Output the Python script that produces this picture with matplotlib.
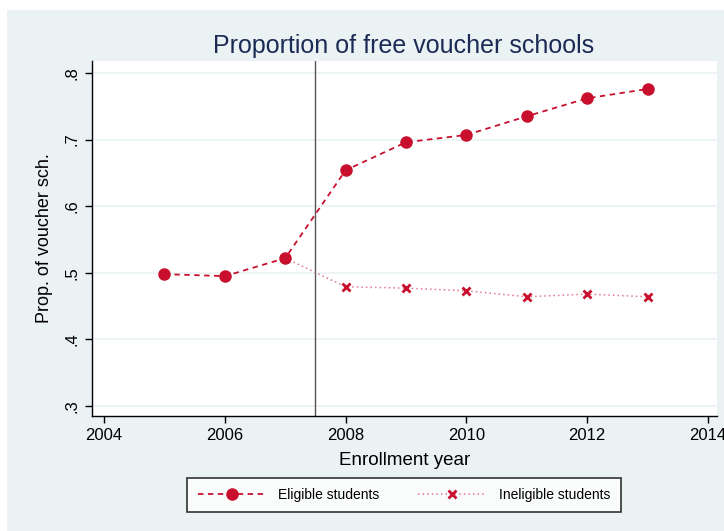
import matplotlib.pyplot as plt
from matplotlib.lines import Line2D
from matplotlib.patches import Rectangle

plt.rcParams["font.family"] = ["Liberation Sans", "DejaVu Sans"]

years = [2005, 2006, 2007, 2008, 2009, 2010, 2011, 2012, 2013]
eligible = [0.498, 0.495, 0.522, 0.654, 0.696, 0.707, 0.735, 0.762, 0.776]
ineligible_years = [2007, 2008, 2009, 2010, 2011, 2012, 2013]
ineligible = [0.522, 0.479, 0.477, 0.473, 0.464, 0.468, 0.464]
x_ticks = [2004, 2006, 2008, 2010, 2012, 2014]
y_ticks = [0.3, 0.4, 0.5, 0.6, 0.7, 0.8]
y_ticklabels = [".3", ".4", ".5", ".6", ".7", ".8"]
cutoff = 2007.5

BG = "#EAF2F3"
RED = "#C8102E"
PINK = "#E3788E"
NAVY = "#1C2B55"

W, H = 724, 531
fig = plt.figure(figsize=(W / 100, H / 100), dpi=100)
fig.patch.set_facecolor("white")
fig.add_artist(Rectangle((7 / W, 0), 1, 1 - 10 / H, transform=fig.transFigure,
                         facecolor=BG, edgecolor="none", zorder=0))

left, right, top, bottom = 92, 717, 61, 416
ax = fig.add_axes([left / W, 1 - bottom / H, (right - left) / W, (bottom - top) / H])
ax.set_facecolor("white")

ax.set_xlim(2003.8, 2014.15)
ax.set_ylim(0.285, 0.818)
for y in y_ticks:
    ax.axhline(y, color=BG, lw=1.2, zorder=0)

ax.axvline(cutoff, color="#555555", lw=1.0, zorder=1)

ax.plot(ineligible_years, ineligible, linestyle=(0, (1, 2)), color=PINK, lw=1.1,
        marker="x", markersize=6, markeredgewidth=2, markeredgecolor=RED, zorder=2)
ax.plot(years, eligible, linestyle=(0, (3, 2.5)), color=RED, lw=1.3,
        marker="o", markersize=8, markerfacecolor=RED, markeredgecolor=RED, zorder=3)

ax.set_xticks(x_ticks)
ax.set_xticklabels([str(x) for x in x_ticks], fontsize=12)
ax.set_yticks(y_ticks)
ax.set_yticklabels(y_ticklabels, fontsize=12, rotation=90, va="center")
ax.tick_params(direction="out", length=5, width=1, color="black", pad=4)
for s in ["top", "right"]:
    ax.spines[s].set_visible(False)
for s in ["left", "bottom"]:
    ax.spines[s].set_color("black")
    ax.spines[s].set_linewidth(1)

ax.set_xlabel("Enrollment year", fontsize=13.5, labelpad=6)
ax.set_ylabel("Prop. of voucher sch.", fontsize=13, labelpad=8)
fig.text(404 / W, 1 - 46 / H, "Proportion of free voucher schools", fontsize=18,
         color=NAVY, ha="center", va="center")

handles = [
    Line2D([], [], linestyle=(0, (3, 2.5)), color=RED, lw=1.3, marker="o",
           markersize=8, markerfacecolor=RED, markeredgecolor=RED),
    Line2D([], [], linestyle=(0, (1, 2)), color=PINK, lw=1.1, marker="x",
           markersize=6, markeredgewidth=2, markeredgecolor=RED),
]
leg = fig.legend(handles, ["Eligible students", "Ineligible students"], ncol=2,
                 loc="center", bbox_to_anchor=(404 / W, 1 - 495 / H), fontsize=10,
                 frameon=True, fancybox=False, edgecolor="black", handlelength=4.9,
                 columnspacing=2.8, borderpad=0.75, handletextpad=0.9)
leg.get_frame().set_linewidth(1.2)

fig.savefig("out.png", dpi=100, facecolor=fig.get_facecolor())
